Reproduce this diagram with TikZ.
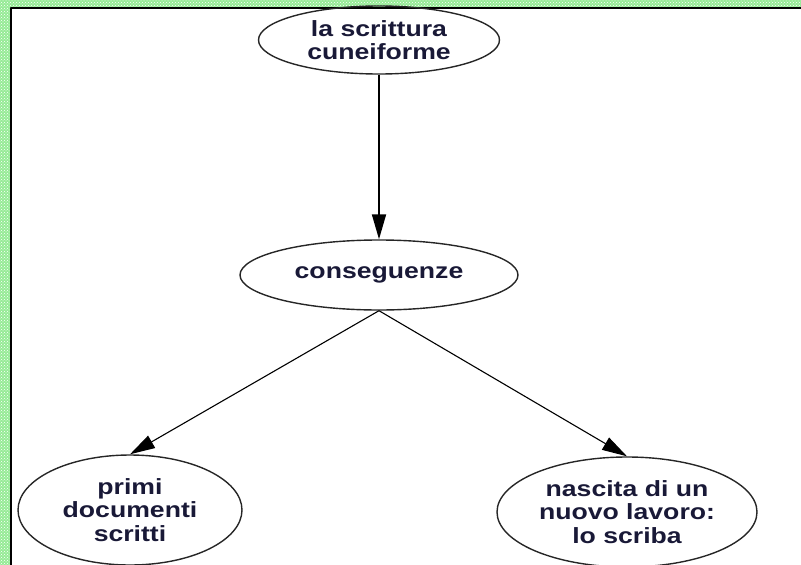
\documentclass[tikz,border=0pt]{standalone}
\usepackage{fontspec}
\newfontfamily\nodefont[FakeStretch=1.21]{Liberation Sans}
\usetikzlibrary{arrows.meta,shapes.geometric,patterns}
\definecolor{testo}{RGB}{25,25,55}
\definecolor{cornice}{RGB}{150,235,150}
\begin{document}
\begin{tikzpicture}[x=1pt,y=-1pt,>={Triangle[length=25pt,width=14pt]},line join=round,
	nodo/.style={ellipse,draw=black!85,line width=1.4pt,inner sep=0pt,text=testo,align=center,
		font=\nodefont\bfseries\fontsize{22}{23.5}\selectfont}]
		\useasboundingbox (0,0) rectangle (801,565);
		\fill[cornice] (0,0) rectangle (801,7) (0,0) rectangle (11,565);
		\fill[pattern=crosshatch dots,pattern color=white] (0,0) rectangle (801,7) (0,0) rectangle (11,565);
		\draw[line width=2.2pt] (11,565)--(11,8)--(801,8);
		\node[nodo,minimum width=241pt,minimum height=68pt] (scrittura) at (379,40) {la scrittura\\cuneiforme};
		\node[nodo,minimum width=278pt,minimum height=70pt] (conseguenze) at (379,275) {conseguenze};
		\node[nodo,minimum width=224pt,minimum height=110pt] (documenti) at (130,510) {primi\\documenti\\scritti};
		\node[nodo,minimum width=260pt,minimum height=110pt] (scriba) at (627,512) {nascita di un\\nuovo lavoro:\\lo scriba};
		\draw[->,line width=1.8pt] (scrittura.south)--(conseguenze.north);
		\draw[->,line width=1.1pt] (conseguenze.south)--(documenti.north);
		\draw[->,line width=1.1pt] (conseguenze.south)--(scriba.north);
\end{tikzpicture}
\end{document}
